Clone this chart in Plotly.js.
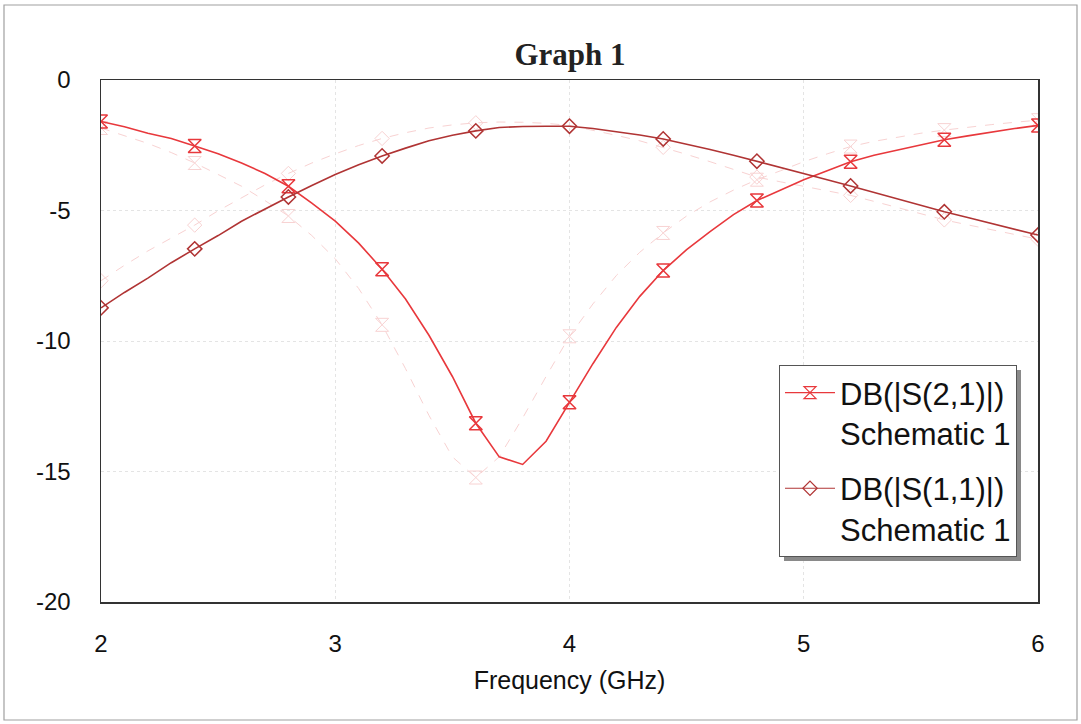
<!DOCTYPE html>
<html>
<head>
<meta charset="utf-8">
<script src="https://cdn.plot.ly/plotly-3.0.1.min.js"></script>
<style>
  html, body { margin: 0; padding: 0; background: #fff; }
  #chart { width: 1081px; height: 724px; }
</style>
</head>
<body>
<div id="chart"></div>
<script>
// Frequency points (GHz)
const freq = [2.0,2.1,2.2,2.3,2.4,2.5,2.6,2.7,2.8,2.9,3.0,3.1,3.2,3.3,3.4,3.5,3.6,3.7,3.8,3.9,4.0,
              4.1,4.2,4.3,4.4,4.5,4.6,4.7,4.8,4.9,5.0,5.1,5.2,5.3,5.4,5.5,5.6,5.7,5.8,5.9,6.0];

// DB(|S(2,1)|) Schematic 1 (solid)
const s21 = [-1.59,-1.79,-2.04,-2.24,-2.53,-2.83,-3.18,-3.58,-4.07,-4.72,-5.41,-6.25,-7.25,-8.39,-9.78,-11.36,-13.15,-14.44,-14.73,-13.84,-12.35,
             -10.87,-9.48,-8.29,-7.30,-6.50,-5.81,-5.16,-4.62,-4.22,-3.82,-3.48,-3.13,-2.88,-2.68,-2.48,-2.29,-2.14,-1.99,-1.86,-1.74];

// DB(|S(1,1)|) Schematic 1 (solid)
const s11 = [-8.73,-8.14,-7.59,-7.00,-6.47,-5.96,-5.41,-4.93,-4.48,-4.04,-3.62,-3.25,-2.91,-2.61,-2.33,-2.12,-1.95,-1.82,-1.78,-1.77,-1.77,
             -1.86,-1.98,-2.11,-2.26,-2.45,-2.66,-2.88,-3.11,-3.35,-3.59,-3.82,-4.06,-4.31,-4.56,-4.81,-5.05,-5.27,-5.49,-5.71,-5.94];

// Faint (dashed) companion traces
const s21Faint = [-1.84,-2.14,-2.43,-2.78,-3.18,-3.62,-4.07,-4.62,-5.21,-5.96,-6.85,-7.99,-9.38,-11.06,-12.85,-14.44,-15.23,-14.44,-12.95,-11.36,-9.82,
                  -8.58,-7.49,-6.60,-5.86,-5.21,-4.67,-4.22,-3.82,-3.48,-3.13,-2.83,-2.55,-2.35,-2.19,-2.04,-1.92,-1.81,-1.71,-1.62,-1.54];
const s11Faint = [-7.69,-7.10,-6.55,-6.06,-5.56,-5.01,-4.52,-4.02,-3.58,-3.18,-2.83,-2.51,-2.24,-2.02,-1.84,-1.72,-1.64,-1.61,-1.62,-1.66,-1.74,
                  -1.92,-2.12,-2.33,-2.58,-2.85,-3.13,-3.43,-3.72,-3.90,-4.07,-4.24,-4.42,-4.65,-4.89,-5.12,-5.36,-5.55,-5.74,-5.93,-6.10];

// Axis ticks
const xTickVals = [2,3,4,5,6];
const xTickText = ['2','3','4','5','6'];
const yTickVals = [0,-5,-10,-15,-20];
const yTickText = ['0','-5','-10','-15','-20'];

const legendNames = ['DB(|S(2,1)|)<br>Schematic 1', 'DB(|S(1,1)|)<br>Schematic 1'];

// markers every 4th sample
const pick = (arr) => arr.filter((_, i) => i % 4 === 0);

const RED = '#e8383c';
const DARK = '#b03434';
const FAINT = '#f8d2d2';

const HG = {symbol: 'hourglass-open', size: 13};
const DM = {symbol: 'diamond-open', size: 11};

const traces = [
  // faint dashed companions
  {x: freq, y: s21Faint, mode: 'lines', line: {color: FAINT, width: 1, dash: 'dash'}, showlegend: false, hoverinfo: 'skip'},
  {x: pick(freq), y: pick(s21Faint), mode: 'markers', marker: Object.assign({color: FAINT, line: {width: 1}}, HG), showlegend: false, hoverinfo: 'skip'},
  {x: freq, y: s11Faint, mode: 'lines', line: {color: FAINT, width: 1, dash: 'dash'}, showlegend: false, hoverinfo: 'skip'},
  {x: pick(freq), y: pick(s11Faint), mode: 'markers', marker: Object.assign({color: FAINT, line: {width: 1}}, DM), showlegend: false, hoverinfo: 'skip'},
  // main solid curves
  {x: freq, y: s21, mode: 'lines', line: {color: RED, width: 1.6}, showlegend: false},
  {x: pick(freq), y: pick(s21), mode: 'markers', marker: Object.assign({color: RED, line: {width: 1.5}}, HG), showlegend: false},
  {x: freq, y: s11, mode: 'lines', line: {color: DARK, width: 1.6}, showlegend: false},
  {x: pick(freq), y: pick(s11), mode: 'markers', marker: Object.assign({color: DARK, line: {width: 1.5}}, DM), showlegend: false},
  // legend entries
  {x: [null], y: [null], mode: 'lines+markers', name: legendNames[0], legendgroup: 'a',
   line: {color: RED, width: 1.2}, marker: {symbol: 'hourglass-open', size: 12, color: RED, line: {width: 1.2}}},
  {x: [null], y: [null], mode: 'lines+markers', name: legendNames[1], legendgroup: 'b',
   line: {color: DARK, width: 1.2}, marker: {symbol: 'diamond-open', size: 11, color: DARK, line: {width: 1.2}}}
];

// pixel helpers for decorations
const L = 101, R = 43, T = 80, B = 122, W = 1081, H = 724;
const pw = W - L - R, ph = H - T - B;
const px = (p) => (p - L) / pw;
const py = (p) => (H - B - p) / ph;

const layout = {
  width: W, height: H,
  margin: {l: L, r: R, t: T, b: B},
  paper_bgcolor: '#ffffff',
  plot_bgcolor: '#ffffff',
  font: {family: 'Liberation Sans, Arial, sans-serif', color: '#111', size: 24},
  title: {
    text: '<b>Graph 1</b>',
    font: {family: 'Liberation Serif, Times New Roman, serif', size: 31, color: '#222'},
    x: px(570), xref: 'paper', xanchor: 'center',
    y: 1 - 54 / H, yref: 'container', yanchor: 'middle'
  },
  xaxis: {
    range: [2, 6],
    tickvals: xTickVals, ticktext: xTickText,
    showgrid: true, gridcolor: '#e4e4e4', griddash: 'dot', gridwidth: 1,
    zeroline: false,
    showline: true, linecolor: '#333', linewidth: 1.5, mirror: true,
    ticks: '', ticklabelstandoff: 20,
    tickfont: {size: 24, color: '#111'},
    title: {text: 'Frequency (GHz)', font: {size: 25, color: '#111'}, standoff: 15}
  },
  yaxis: {
    range: [-20, 0],
    tickvals: yTickVals, ticktext: yTickText,
    showgrid: true, gridcolor: '#e4e4e4', griddash: 'dot', gridwidth: 1,
    zeroline: false,
    showline: true, linecolor: '#333', linewidth: 1.5, mirror: true,
    ticks: '', ticklabelstandoff: 24,
    tickfont: {size: 24, color: '#111'}
  },
  legend: {
    x: px(779), y: py(365), xanchor: 'left', yanchor: 'top',
    bgcolor: '#ffffff', bordercolor: '#555', borderwidth: 1,
    font: {size: 31, color: '#111'},
    valign: 'top', tracegroupgap: 12, itemwidth: 50,
    itemclick: false, itemdoubleclick: false
  },
  shapes: [
    // legend shadow
    {type: 'rect', xref: 'paper', yref: 'paper', layer: 'above',
     x0: px(784), x1: px(1021), y0: py(370), y1: py(561),
     fillcolor: '#8a8a8a', line: {width: 0}},
    // outer frame
    {type: 'rect', xref: 'paper', yref: 'paper', layer: 'below',
     x0: px(4), x1: px(1077), y0: py(5), y1: py(720),
     fillcolor: 'rgba(0,0,0,0)', line: {color: '#a0a0a0', width: 1.2}}
  ],
  showlegend: true
};

Plotly.newPlot('chart', traces, layout, {displayModeBar: false, staticPlot: true});
</script>
</body>
</html>
